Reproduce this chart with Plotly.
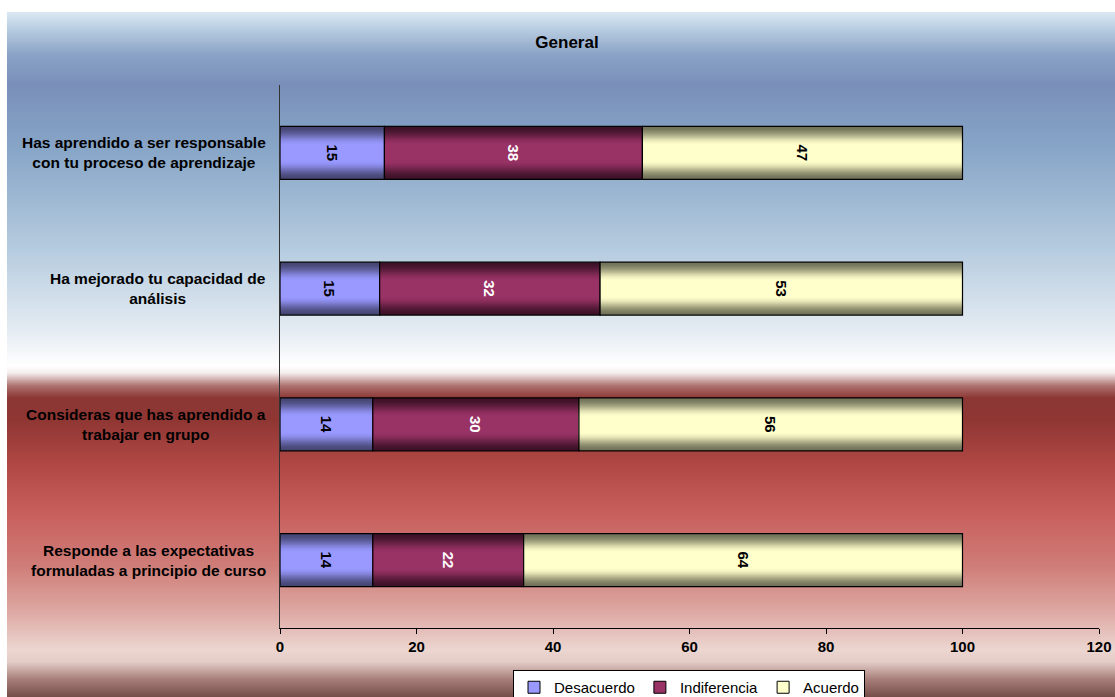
import base64
import struct
import zlib

import plotly.graph_objects as go

# ---------------- data ----------------
categories = [
    "Has aprendido a ser responsable<br>con tu proceso de aprendizaje",
    "Ha mejorado tu capacidad de<br>análisis",
    "Consideras que has aprendido a<br>trabajar en grupo",
    "Responde a las expectativas<br>formuladas a principio de curso",
]
desacuerdo = [15.3, 14.6, 13.6, 13.6]
indiferencia = [37.8, 32.3, 30.2, 22.1]
acuerdo = [46.9, 53.1, 56.2, 64.3]
series_names = ["Desacuerdo", "Indiferencia", "Acuerdo"]
x_ticks = [0, 20, 40, 60, 80, 100, 120]

# ---------------- layout constants ----------------
W, H = 1115, 697
ML, MR, MT, MB = 280, 16, 85, 69
PW, PH = W - ML - MR, H - MT - MB
FONT = "Arial, Liberation Sans, sans-serif"
FS = 15


def px_to_paper_x(px):
    return (px - ML) / PW


def px_to_paper_y(py):
    return (H - MB - py) / PH


# ---------------- background gradient image ----------------
bg_top, bg_left = 12, 7
stops = [
    (12, (220, 233, 243)),
    (30, (182, 203, 224)),
    (55, (138, 162, 197)),
    (85, (121, 143, 185)),
    (150, (136, 166, 200)),
    (250, (182, 204, 223)),
    (330, (228, 235, 242)),
    (366, (255, 255, 255)),
    (373, (245, 238, 238)),
    (386, (172, 112, 110)),
    (398, (140, 55, 52)),
    (420, (143, 54, 51)),
    (470, (180, 74, 71)),
    (515, (200, 96, 94)),
    (565, (207, 124, 119)),
    (610, (221, 166, 161)),
    (650, (236, 214, 208)),
    (662, (228, 204, 199)),
    (680, (165, 124, 119)),
    (697, (118, 78, 73)),
]


def color_at(y):
    if y <= stops[0][0]:
        return stops[0][1]
    for (y0, c0), (y1, c1) in zip(stops, stops[1:]):
        if y0 <= y <= y1:
            t = (y - y0) / (y1 - y0)
            return tuple(int(round(a + (b - a) * t)) for a, b in zip(c0, c1))
    return stops[-1][1]


def make_png(rows, width):
    raw = b"".join(b"\x00" + bytes([v for _ in range(width) for v in r]) for r in rows)

    def chunk(tag, data):
        c = struct.pack(">I", len(data)) + tag + data
        return c + struct.pack(">I", zlib.crc32(tag + data) & 0xFFFFFFFF)

    ihdr = struct.pack(">IIBBBBB", width, len(rows), 8, 2, 0, 0, 0)
    png = b"\x89PNG\r\n\x1a\n" + chunk(b"IHDR", ihdr) + chunk(b"IDAT", zlib.compress(raw, 9)) + chunk(b"IEND", b"")
    return "data:image/png;base64," + base64.b64encode(png).decode()


rows = [color_at(y + 0.5) for y in range(bg_top, H)]
bg_src = make_png(rows, 4)

# ---------------- bars ----------------
center_colors = [(153, 153, 255), (153, 51, 102), (255, 255, 204)]
edge_colors = [(70, 70, 115), (62, 18, 40), (115, 115, 90)]
text_colors = ["black", "white", "black"]
BAR_W = 0.39

values = [desacuerdo, indiferencia, acuerdo]
bases = [
    [0] * len(categories),
    list(desacuerdo),
    [a + b for a, b in zip(desacuerdo, indiferencia)],
]

fig = go.Figure()

n_layers = 20
for k in range(3):
    for i in range(n_layers):
        f = 1 - i * (0.7 / (n_layers - 1))
        t = min(1.0, (1 - f) / 0.7)
        t = t * t * (3 - 2 * t)
        col = tuple(int(round(e + (c - e) * t)) for e, c in zip(edge_colors[k], center_colors[k]))
        fig.add_trace(go.Bar(
            y=categories, x=values[k], base=bases[k], orientation="h",
            width=BAR_W * f, marker=dict(color="rgb(%d,%d,%d)" % col, line=dict(width=0)),
            showlegend=False, hoverinfo="skip",
        ))
    # outline + labels
    fig.add_trace(go.Bar(
        y=categories, x=values[k], base=bases[k], orientation="h", width=BAR_W,
        marker=dict(color="rgba(0,0,0,0)", line=dict(color="black", width=1.2)),
        text=values[k], texttemplate="%{x:.0f}", textposition="inside",
        insidetextanchor="middle", textangle=90,
        textfont=dict(family=FONT, size=FS, color=text_colors[k], weight="bold"),
        showlegend=False, hoverinfo="skip", cliponaxis=False,
    ))

# legend entries
for k in range(3):
    fig.add_trace(go.Bar(
        y=[categories[0]], x=[None], orientation="h", name=series_names[k],
        marker=dict(color="rgb(%d,%d,%d)" % center_colors[k], line=dict(color="black", width=1)),
        showlegend=True, hoverinfo="skip",
    ))

annotations = [
    dict(text="<b>%s</b>" % c, x=px_to_paper_x(268), xref="paper", y=c, yref="y",
         xanchor="right", yanchor="middle", align="center", showarrow=False,
         font=dict(family=FONT, size=15.5, color="black"))
    for c in categories
]

fig.update_layout(
    width=W, height=H,
    margin=dict(l=ML, r=MR, t=MT, b=MB, autoexpand=False),
    paper_bgcolor="white", plot_bgcolor="rgba(0,0,0,0)",
    barmode="overlay",
    title=dict(text="<b>General</b>", x=567 / W, xanchor="center", y=1 - 42 / H, yanchor="middle",
               font=dict(family=FONT, size=17, color="black")),
    xaxis=dict(range=[0, 120], tickvals=x_ticks, ticks="outside", ticklen=5, tickcolor="black",
               showline=True, linecolor="black", linewidth=1, showgrid=False, zeroline=False,
               tickfont=dict(family=FONT, size=FS, color="black", weight="bold"), fixedrange=True),
    yaxis=dict(categoryorder="array", categoryarray=categories, autorange="reversed",
               showticklabels=False, ticks="", showline=True, linecolor="#333333", linewidth=1,
               showgrid=False, zeroline=False),
    legend=dict(orientation="h", x=px_to_paper_x(689), xanchor="center", y=px_to_paper_y(670),
                yanchor="top", bgcolor="white", bordercolor="black", borderwidth=1,
                font=dict(family=FONT, size=FS, color="black"), itemwidth=30,
                traceorder="normal", tracegroupgap=0),
    annotations=annotations,
    images=[dict(source=bg_src, xref="paper", yref="paper",
                 x=px_to_paper_x(bg_left), y=px_to_paper_y(bg_top),
                 sizex=(W - bg_left) / PW, sizey=(H - bg_top) / PH,
                 xanchor="left", yanchor="top", sizing="stretch", layer="below")],
    showlegend=True,
)

fig.write_html("out.html")
